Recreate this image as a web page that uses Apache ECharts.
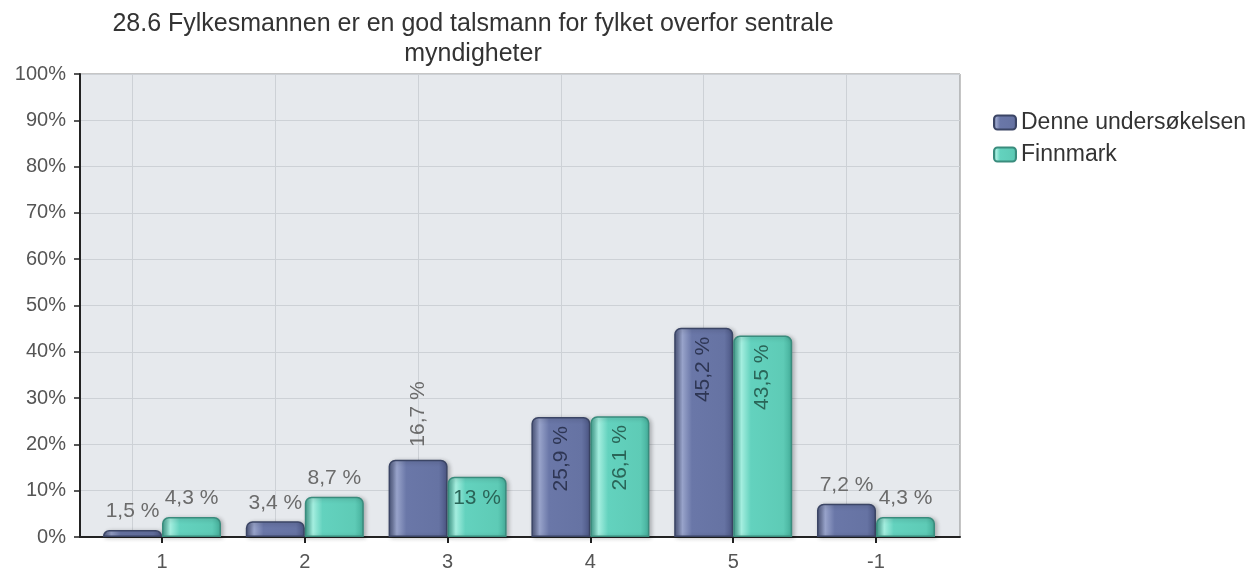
<!DOCTYPE html>
<html><head><meta charset="utf-8">
<script src="https://cdn.jsdelivr.net/npm/echarts@6/dist/echarts.min.js"></script>
<style>html,body{margin:0;padding:0;background:#fff;overflow:hidden}#c{width:1258px;height:573px}</style>
</head><body><div id="c"></div>
<script>
const titleText = '28.6 Fylkesmannen er en god talsmann for fylket overfor sentrale\nmyndigheter';
const categories = ['1', '2', '3', '4', '5', '-1'];
const seriesNames = ['Denne undersøkelsen', 'Finnmark'];
const denneValues = [1.5, 3.4, 16.7, 25.9, 45.2, 7.2];
const finnmarkValues = [4.3, 8.7, 13, 26.1, 43.5, 4.3];
const yMin = 0, yMax = 100, yStep = 10;

const FONT = 'Liberation Sans, Arial, sans-serif';
const fmt = v => String(v).replace('.', ',') + ' %';

function grad(c) {
  return new echarts.graphic.LinearGradient(0, 0, 1, 0, [
    { offset: 0, color: c[0] }, { offset: 0.14, color: c[1] }, { offset: 0.3, color: c[2] },
    { offset: 0.85, color: c[3] }, { offset: 1, color: c[4] }
  ]);
}
const blueGrad = ['#4a5479', '#98a3ca', '#6a77a8', '#6673a3', '#4a5582'];
const greenGrad = ['#3d9d8b', '#a4eedf', '#63d2be', '#5ecbb6', '#44ad99'];

function labelFor(v, si) {
  const base = { show: true, formatter: fmt(v), fontFamily: FONT, fontSize: 21 };
  if (v < 10) return Object.assign(base, { position: 'top', distance: 8, color: '#6b6b6b' });
  if (v >= 20) return Object.assign(base, { position: 'insideTop', rotate: 90, align: 'right', verticalAlign: 'middle', distance: 9, color: si === 0 ? '#2e3654' : '#2a6558' });
  if (si === 0) return Object.assign(base, { position: 'top', rotate: 90, align: 'left', verticalAlign: 'middle', distance: 13, color: '#6b6b6b' });
  return Object.assign(base, { position: 'insideTop', distance: 11, color: '#2a6558' });
}

function mkSeries(name, vals, si, g, border) {
  return {
    name, type: 'bar', xAxisIndex: 1, yAxisIndex: 1, barWidth: 59, barGap: '0%', z: 3,
    itemStyle: { color: grad(g), borderColor: border, borderWidth: 1.5, borderRadius: [6, 6, 0, 0],
      shadowColor: 'rgba(0,0,0,0.25)', shadowBlur: 4, shadowOffsetX: 2, shadowOffsetY: 1 },
    data: vals.map(v => ({ value: v, label: labelFor(v, si) })),
    markLine: si === 0 ? {
      silent: true, symbol: 'none', z: 1, animation: false,
      label: { show: false },
      lineStyle: { color: '#cdd1d6', type: 'solid', width: 1 },
      data: categories.map(c => ({ xAxis: c }))
    } : undefined
  };
}

const chart = echarts.init(document.getElementById('c'), null, { renderer: 'canvas' });
chart.setOption({
  animation: false,
  backgroundColor: '#ffffff',
  title: { text: titleText, left: 468, top: 4, textAlign: 'center',
    textStyle: { fontFamily: FONT, fontSize: 25, fontWeight: 'normal', color: '#333', lineHeight: 30 } },
  legend: { orient: 'vertical', left: 988, top: 106, itemWidth: 22, itemHeight: 14, itemGap: 9, icon: 'roundRect',
    textStyle: { fontFamily: FONT, fontSize: 23, color: '#333' }, data: seriesNames },
  grid: [
    { left: 80, right: 298, top: 74, bottom: 36, show: true, backgroundColor: '#e6e9ed', borderColor: '#8c8c8c', borderWidth: 1, outerBoundsMode: 'none' },
    { left: 90.6, right: 310.6, top: 74, bottom: 36, outerBoundsMode: 'none' }
  ],
  xAxis: [
    { gridIndex: 0, type: 'value', min: 0, max: 1, axisLine: { show: true, lineStyle: { color: '#222', width: 2 } },
      axisTick: { show: false }, axisLabel: { show: false }, splitLine: { show: false } },
    { gridIndex: 1, type: 'category', data: categories, axisLine: { show: false },
      axisTick: { show: true, alignWithLabel: true, length: 6, lineStyle: { color: '#222', width: 2 } },
      axisLabel: { fontFamily: FONT, fontSize: 20, color: '#555', margin: 15 }, splitLine: { show: false } }
  ],
  yAxis: [
    { gridIndex: 0, type: 'value', min: yMin, max: yMax, interval: yStep,
      axisLine: { show: true, lineStyle: { color: '#222', width: 2 } },
      axisTick: { show: true, length: 6, lineStyle: { color: '#222', width: 1.5 } },
      axisLabel: { formatter: '{value}%', fontFamily: FONT, fontSize: 20, color: '#555', margin: 14 },
      splitLine: { show: true, lineStyle: { color: '#cdd1d6', width: 1 } } },
    { gridIndex: 1, type: 'value', min: yMin, max: yMax, show: false }
  ],
  series: [
    mkSeries(seriesNames[0], denneValues, 0, blueGrad, '#3b4565'),
    mkSeries(seriesNames[1], finnmarkValues, 1, greenGrad, '#3a8c7d')
  ]
});
</script></body></html>
